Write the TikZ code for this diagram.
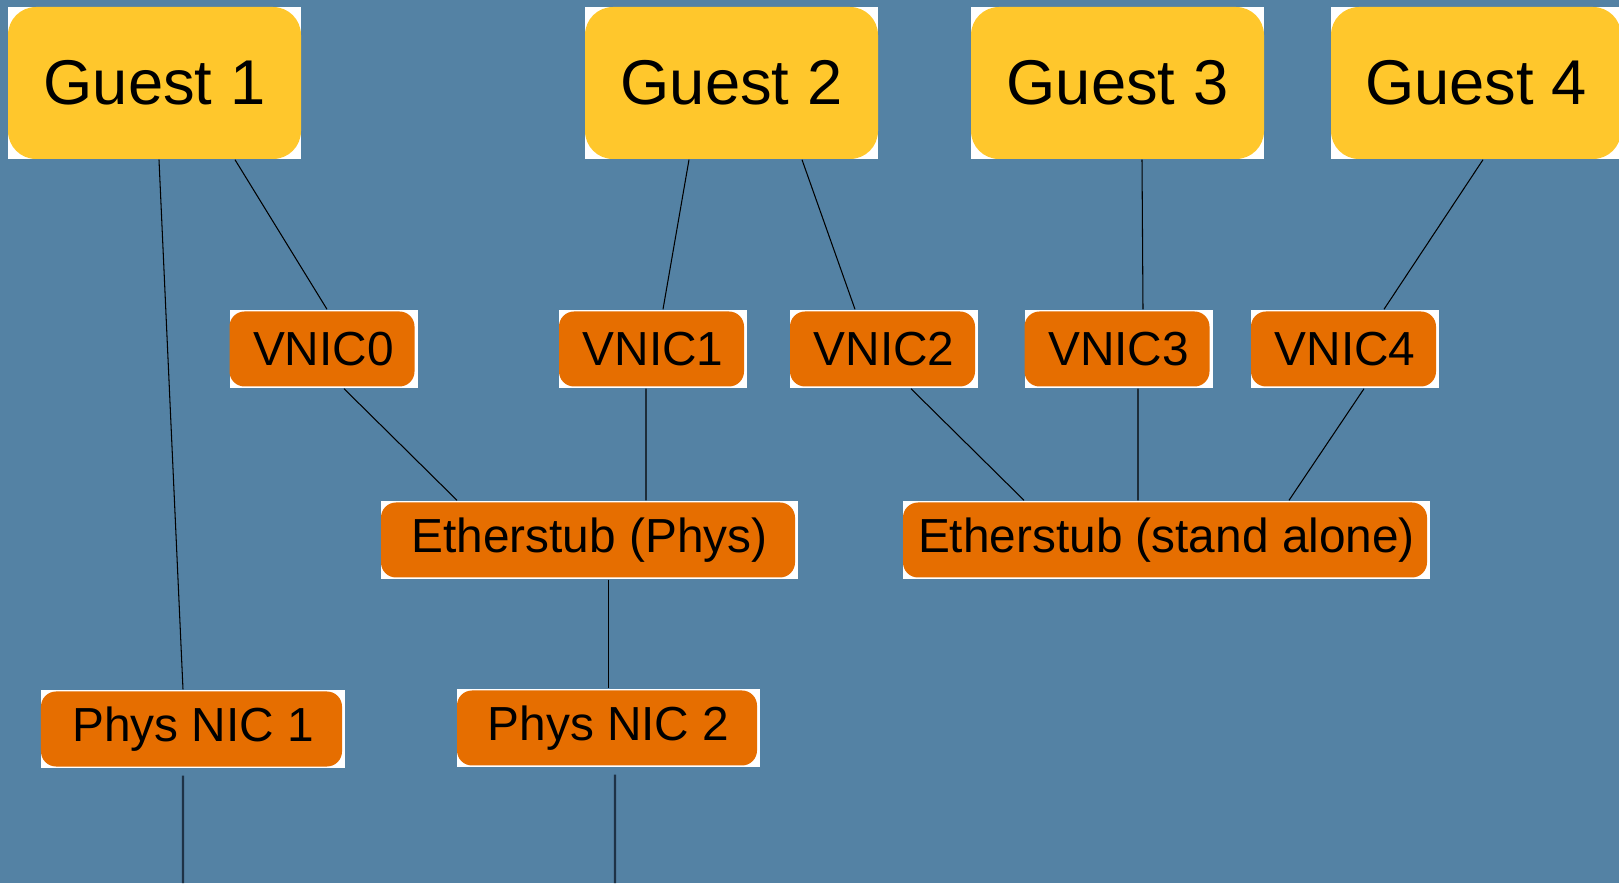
\documentclass[tikz,border=0pt]{standalone}
\usepackage{fontspec}
\setmainfont{Liberation Sans}
\usetikzlibrary{calc}

\definecolor{bgblue}{RGB}{84,130,164}
\definecolor{guestyellow}{RGB}{255,199,44}
\definecolor{nicorange}{RGB}{230,110,0}
\definecolor{wiredark}{RGB}{30,50,70}

\tikzset{
    guestbox/.style={fill=white, inner sep=0pt, minimum width=2.93cm, minimum height=1.52cm,
        font=\fontsize{18}{20}\selectfont,
        path picture={\fill[guestyellow, rounded corners=0.28cm](path picture bounding box.south west) rectangle (path picture bounding box.north east);}},
    nicbox/.style={fill=white, inner sep=0pt, minimum width=1.88cm, minimum height=0.78cm,
        font=\fontsize{13.6}{15}\selectfont,
        path picture={\fill[nicorange, rounded corners=0.15cm]([shift={(0,0.015)}]path picture bounding box.south west) rectangle ([shift={(-0.03,-0.015)}]path picture bounding box.north east);}},
    wire/.style={line width=0.3pt, black},
    uplink/.style={line width=0.6pt, wiredark},
}

\begin{document}
\begin{tikzpicture}
    \useasboundingbox(0,0) rectangle (16.19,8.83);
    \clip(0,0) rectangle (16.19,8.83);
    \fill[bgblue](0,0) rectangle (16.19,8.83);

    \node[guestbox](g1) at (1.545,8.00){Guest 1};
    \node[guestbox](g2) at (7.315,8.00){Guest 2};
    \node[guestbox](g3) at (11.175,8.00){Guest 3};
    \node[guestbox, minimum width=2.90cm](g4) at (14.76,8.00){Guest 4};

    \node[nicbox](v0) at (3.235,5.34){VNIC0};
    \node[nicbox](v1) at (6.53,5.34){VNIC1};
    \node[nicbox](v2) at (8.84,5.34){VNIC2};
    \node[nicbox](v3) at (11.185,5.34){VNIC3};
    \node[nicbox](v4) at (13.45,5.34){VNIC4};

    \node[nicbox, minimum width=4.17cm](e1) at (5.895,3.43){Etherstub (Phys)};
    \node[nicbox, minimum width=5.27cm](e2) at (11.665,3.43){Etherstub (stand alone)};

    \node[nicbox, minimum width=3.04cm](p1) at (1.93,1.54){Phys NIC 1};
    \node[nicbox, minimum width=3.03cm](p2) at (6.085,1.55){Phys NIC 2};

    \coordinate(p1end) at (1.83,0);
    \coordinate(p2end) at (6.15,0);

    \draw[wire]($(g1.south)+(0.045,0)$)--($(p1.north)+(-0.10,0)$);
    \draw[wire]($(g1.south)+(0.805,0)$)--($(v0.north)+(0.035,0)$);
    \draw[wire]($(g2.south)+(-0.425,0)$)--($(v1.north)+(0.10,0)$);
    \draw[wire]($(g2.south)+(0.705,0)$)--($(v2.north)+(-0.29,0)$);
    \draw[wire]($(g3.south)+(0.245,0)$)--($(v3.north)+(0.245,0)$);
    \draw[wire]($(g4.south)+(0.07,0)$)--($(v4.north)+(0.39,0)$);

    \draw[wire]($(v0.south)+(0.205,0)$)--($(e1.north)+(-1.325,0)$);
    \draw[wire]($(v1.south)+(-0.07,0)$)--($(e1.north)+(0.565,0)$);
    \draw[wire]($(v2.south)+(0.27,0)$)--($(e2.north)+(-1.425,0)$);
    \draw[wire]($(v3.south)+(0.195,0)$)--($(e2.north)+(-0.285,0)$);
    \draw[wire]($(v4.south)+(0.19,0)$)--($(e2.north)+(1.225,0)$);

    \draw[wire](p2.north |- e1.south)--(p2.north);

    \draw[uplink]($(p1.south)+(-0.10,-0.07)$)--(p1end);
    \draw[uplink]($(p2.south)+(0.065,-0.07)$)--(p2end);
\end{tikzpicture}
\end{document}
